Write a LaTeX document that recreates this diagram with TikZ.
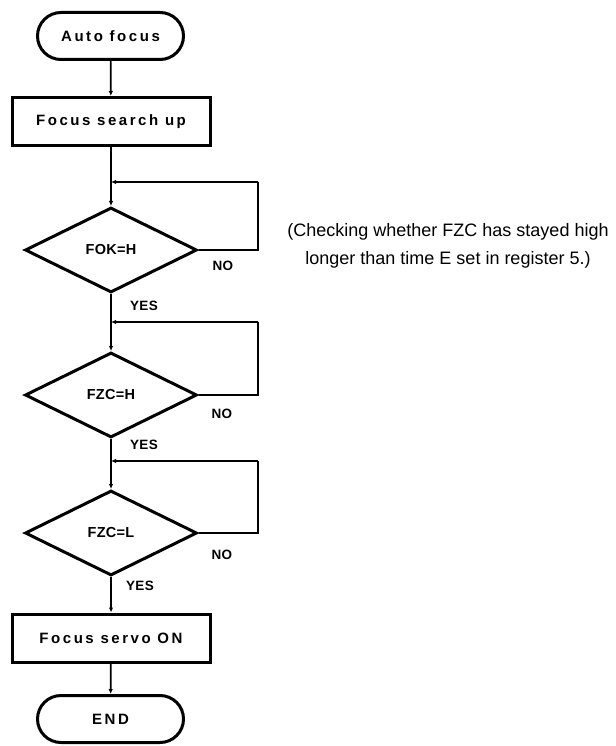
\documentclass[tikz,border=0pt]{standalone}
\usepackage{fontspec}
\setmainfont{Liberation Sans}
\newfontfamily\lblfont[LetterSpace=17]{Liberation Sans}
\newfontfamily\dfont[LetterSpace=2]{Liberation Sans}
\usetikzlibrary{shapes.geometric,shapes.misc,arrows.meta}
\begin{document}
\begin{tikzpicture}[x=1pt,y=-1pt,
  shapeline/.style={draw=black,line width=3pt},
  term/.style={shapeline,rounded rectangle,minimum width=146pt,minimum height=47pt,inner sep=0pt,font=\lblfont\bfseries\fontsize{15}{15}\selectfont},
  procbox/.style={shapeline,rectangle,minimum width=198pt,minimum height=48pt,inner sep=0pt,font=\lblfont\bfseries\fontsize{15}{15}\selectfont},
  decision/.style={shapeline,diamond,minimum width=172pt,minimum height=85pt,inner sep=0pt,font=\dfont\bfseries\fontsize{14.5}{14.5}\selectfont},
  conn/.style={draw=black,line width=1.7pt},
  arr/.style={conn,-{Latex[length=5pt,width=4.5pt]}},
  yn/.style={font=\dfont\bfseries\fontsize{13.5}{13.5}\selectfont,inner sep=0pt},
  note/.style={font=\fontsize{18}{28}\selectfont,align=center,inner sep=0pt}
]
\useasboundingbox (0,0) rectangle (615,746);

\node[term] (start) at (110.5,36) {Auto focus};
\node[procbox] (search) at (111,121.5) {Focus search up};
\node[decision] (d1) at (111,250) {FOK=H};
\node[decision] (d2) at (111,395) {FZC=H};
\node[decision] (d3) at (111,533) {FZC=L};
\node[procbox] (servo) at (111,638) {Focus servo ON};
\node[term] (end) at (110.5,719) {END};

\coordinate (j1) at (111,182);
\coordinate (r1) at (258,182);
\coordinate (j2) at (111,322);
\coordinate (r2) at (258,322);
\coordinate (j3) at (111,461);
\coordinate (r3) at (258,461);

\draw[arr] (start) -- (search);
\draw[arr] (search) -- (d1);
\draw[arr] (d1) -- (d2);
\draw[arr] (d2) -- (d3);
\draw[arr] (d3) -- (servo);
\draw[arr] (servo) -- (end);

\draw[conn] (d1.east) -| (r1);
\draw[arr] (r1) -- (j1);
\draw[conn] (d2.east) -| (r2);
\draw[arr] (r2) -- (j2);
\draw[conn] (d3.east) -| (r3);
\draw[arr] (r3) -- (j3);

\node[yn] (no1) at (223,266) {NO};
\node[yn] (yes1) at (144,306) {YES};
\node[yn] (no2) at (222,414) {NO};
\node[yn] (yes2) at (144,445) {YES};
\node[yn] (no3) at (222,555) {NO};
\node[yn] (yes3) at (140,586) {YES};

\node[note] (cmt) at (448,246) {(Checking whether FZC has stayed high\\longer than time E set in register 5.)};
\end{tikzpicture}
\end{document}
